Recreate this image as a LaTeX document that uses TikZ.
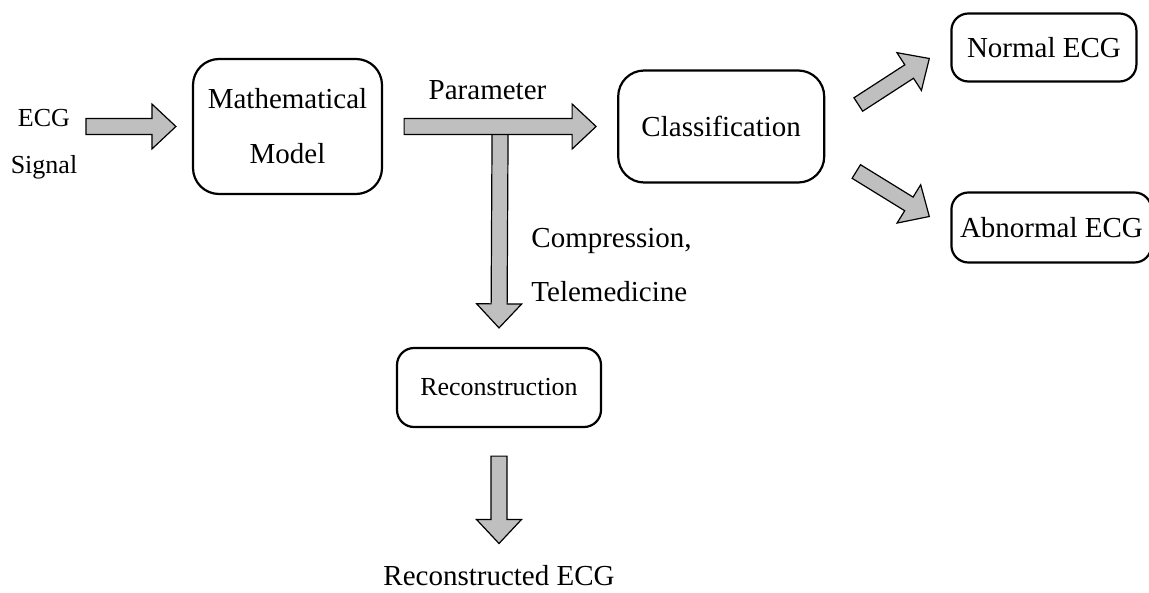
\documentclass[tikz,border=0pt]{standalone}
\usepackage{fontspec}
\setmainfont{Liberation Serif}
\usetikzlibrary{positioning,calc}

% block arrow between two named points
\newcommand{\fatarrow}[2]{%
  \coordinate (hb) at ($(#2)!12pt!(#1)$);
  \draw[fatarr] ($(#1)!4pt!90:(#2)$) -- ($(hb)!4pt!-90:(#1)$) -- ($(hb)!11.25pt!-90:(#1)$)
    -- (#2) -- ($(hb)!11.25pt!90:(#1)$) -- ($(hb)!4pt!90:(#1)$) -- ($(#1)!4pt!-90:(#2)$) -- cycle;
}

\begin{document}
\begin{tikzpicture}[
    x=0.5pt, y=-0.5pt,
    roundbox/.style={rectangle, draw, line width=1.1pt, rounded corners=13pt, align=center, font=\fontsize{14.5}{27.5}\selectfont},
    smallbox/.style={roundbox, rounded corners=8.5pt},
    fatarr/.style={draw, line width=0.6pt, fill=black!25, line join=miter},
    txt/.style={inner sep=0pt, align=center, font=\fontsize{14.5}{27}\selectfont}
]
\useasboundingbox (0,0) rectangle (1149,593);

% Boxes
\node[roundbox, minimum width=94.5pt, minimum height=67.5pt] (model) at (287.5,126.5) {Mathematical\\Model};
\node[roundbox, minimum width=103pt, minimum height=56pt, right=117pt of model] (classify) {Classification};
\node[smallbox, minimum width=92.5pt, minimum height=34pt, right=62.5pt of classify, yshift=39.5pt] (normal) {Normal ECG};
\node[smallbox, minimum width=100pt, minimum height=35pt, right=62.5pt of classify, yshift=-50.5pt] (abnormal) {Abnormal ECG};
\node[smallbox, minimum width=102pt, minimum height=39.5pt, font=\fontsize{13}{15}\selectfont] (recon) at (499,387.5) {Reconstruction};

% Labels
\node[txt, font=\fontsize{13}{23.5}\selectfont, anchor=north] (sig) at (44,109) {ECG\\Signal};
\node[txt, anchor=base] (param) at (487.5,100) {Parameter};
\node[txt, align=left, anchor=north west] (tele) at (531,228) {Compression,\\Telemedicine};
\node[txt, anchor=base] (out) at (499,585) {Reconstructed ECG};

% Arrow ends
\coordinate (a1) at ($(model.west)+(-106,0)$);
\coordinate (b1) at ($(model.west)+(-16,0)$);
\coordinate (a2) at ($(model.east)+(21,0)$);
\coordinate (b2) at ($(classify.west)+(-21,0)$);
\coordinate (split) at ($(a2)!0.5!(b2)$);
\coordinate (b3) at ($(recon.north)+(0,-19)$);
\coordinate (a4) at ($(recon.south)+(0,28)$);
\coordinate (b4) at ($(out.north)+(0,-21)$);
\coordinate (a5) at ($(classify.east)+(33,-22)$);
\coordinate (b5) at ($(normal.west)+(-21,11)$);
\coordinate (a6) at ($(classify.east)+(31,45)$);
\coordinate (b6) at ($(abnormal.west)+(-21,-11)$);

\fatarrow{a1}{b1}
\fatarrow{split}{b3}
\fatarrow{a2}{b2}
\fatarrow{a4}{b4}
\fatarrow{a5}{b5}
\fatarrow{a6}{b6}

\end{tikzpicture}
\end{document}
